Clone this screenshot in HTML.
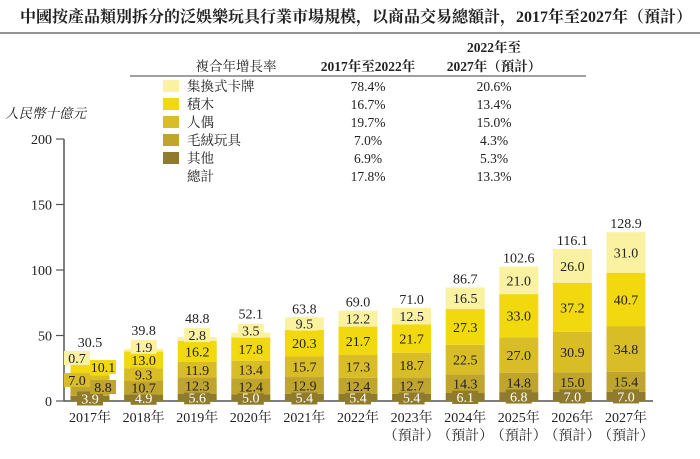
<!DOCTYPE html>
<html><head><meta charset="utf-8"><style>
body{margin:0;background:#fff;}
svg text{font-family:"Liberation Serif","Noto Serif CJK SC",serif;fill:#222;}
</style></head><body>
<svg width="700" height="454" viewBox="0 0 700 454" xmlns="http://www.w3.org/2000/svg">
<text x="356" y="22" text-anchor="middle" font-size="16" font-weight="bold">中國按產品類別拆分的泛娛樂玩具行業市場規模，以商品交易總額計，2017年至2027年（預計）</text>
<line x1="0" y1="33" x2="700" y2="33" stroke="#555" stroke-width="1.2"/>
<g id="table">
<text x="236" y="71" text-anchor="middle" font-size="13.5">複合年增長率</text>
<text x="368" y="71" text-anchor="middle" font-size="13.5" font-weight="bold">2017年至2022年</text>
<text x="494" y="52" text-anchor="middle" font-size="13.5" font-weight="bold">2022年至</text>
<text x="494" y="71" text-anchor="middle" font-size="13.5" font-weight="bold">2027年（預計）</text>
<line x1="130" y1="76" x2="586" y2="76" stroke="#666" stroke-width="1.2"/>
</g>
<g id="plot"></g>
<text x="5" y="118" font-size="13.5" font-style="italic">人民幣十億元</text>
</svg>
<script>
const years = ["2017年","2018年","2019年","2020年","2021年","2022年","2023年","2024年","2025年","2026年","2027年"];
const forecast = [false,false,false,false,false,false,true,true,true,true,true];
const seriesNames = ["其他","毛絨玩具","人偶","積木","集換式卡牌"];
const other = [3.9,4.9,5.6,5.0,5.4,5.4,5.4,6.1,6.8,7.0,7.0];
const plush = [8.8,10.7,12.3,12.4,12.9,12.4,12.7,14.3,14.8,15.0,15.4];
const dolls = [7.0,9.3,11.9,13.4,15.7,17.3,18.7,22.5,27.0,30.9,34.8];
const blocks = [10.1,13.0,16.2,17.8,20.3,21.7,21.7,27.3,33.0,37.2,40.7];
const cards = [0.7,1.9,2.8,3.5,9.5,12.2,12.5,16.5,21.0,26.0,31.0];
const totals = [30.5,39.8,48.8,52.1,63.8,69.0,71.0,86.7,102.6,116.1,128.9];
const cagr1 = ["6.9%","7.0%","19.7%","16.7%","78.4%"];
const cagr2 = ["5.3%","4.3%","15.0%","13.4%","20.6%"];
const totalCagr = ["17.8%","13.3%"];
const yTicks = [0,50,100,150,200];

const NS="http://www.w3.org/2000/svg";
const plot=document.getElementById('plot');
const table=document.getElementById('table');
const colors=["#8f7b2b","#bfa52e","#d9bd26","#f2d90f","#faf2a0"];
const textColors=["#fff","#222","#222","#222","#222"];
const series=[other,plush,dolls,blocks,cards];
const x0=64, yBase=401, yScale=262/200, band=53.6, firstCenter=90, barW=39;
const y=v=>yBase-v*yScale;
const xc=i=>firstCenter+i*band;
function mk(tag,attrs,parent){const e=document.createElementNS(NS,tag);for(const k in attrs)e.setAttribute(k,attrs[k]);(parent||plot).appendChild(e);return e;}

for(let r=0;r<5;r++){
  const s=4-r, ry=86+r*18;
  const sw=mk('rect',{x:163,y:ry-6,width:16,height:12,fill:colors[s]},table);
  
  
  const t=mk('text',{x:187,y:ry+5,'font-size':13.5},table);t.textContent=seriesNames[s];
  
  
  const a=mk('text',{x:368,y:ry+5,'font-size':13.5,'text-anchor':'middle'},table);a.textContent=cagr1[s];
  
  
  const b=mk('text',{x:494,y:ry+5,'font-size':13.5,'text-anchor':'middle'},table);b.textContent=cagr2[s];
  
  
}
{const ry=86+5*18;
 const t=mk('text',{x:187,y:ry+5,'font-size':13.5},table);t.textContent="總計";
 
 
 const a=mk('text',{x:368,y:ry+5,'font-size':13.5,'text-anchor':'middle'},table);a.textContent=totalCagr[0];
 
 
 const b=mk('text',{x:494,y:ry+5,'font-size':13.5,'text-anchor':'middle'},table);b.textContent=totalCagr[1];
 
 }

const ya=mk('line',{x1:x0,y1:y(200),x2:x0,y2:yBase,stroke:'#555','stroke-width':1.5});


const xa=mk('line',{x1:x0,y1:yBase,x2:653,y2:yBase,stroke:'#555','stroke-width':1.5});


yTicks.forEach(v=>{
  const tk=mk('line',{x1:x0-8,y1:y(v),x2:x0,y2:y(v),stroke:'#555','stroke-width':1.2});
  
  
  const t=mk('text',{x:x0-12,y:y(v)+5,'font-size':14,'text-anchor':'end'});t.textContent=v;
  
  
});

years.forEach((yr,i)=>{
  let cum=0;const cx=xc(i);
  const labels=[];
  series.forEach((arr,s)=>{
    const v=arr[i];
    const r=mk('rect',{x:cx-barW/2,y:y(cum+v),width:barW,height:v*yScale,fill:colors[s]});
    
    
    labels.push({s,v,mid:cum+v/2});
    cum+=v;
  });
  const top=y(cum);
  const smallTop = cards[i] < 5;
  labels.forEach(L=>{
    let lx=cx, ly=y(L.mid);
    if(L.s===4 && smallTop){ly=top-2;}
    if(i===0){
      if(L.s===1){lx=cx+13;ly=387;}
      if(L.s===2){lx=cx-13;ly=380;}
      if(L.s===3){lx=cx+13;ly=367;}
      if(L.s===4){lx=cx-13;ly=358;}
    }
    const g=mk('g',{});
    
    
    mk('rect',{x:lx-13,y:ly-7,width:26,height:14,fill:colors[L.s]},g);
    const t=mk('text',{x:lx,y:ly+5,'font-size':14,'text-anchor':'middle'},g);
    t.textContent=L.v.toFixed(1);
    t.style.fill=textColors[L.s];
  });
  const ty = smallTop ? top-14 : top-4;
  const tt=mk('text',{x:cx,y:ty,'font-size':14,'text-anchor':'middle'});tt.textContent=totals[i].toFixed(1);
  
  
  const xl=mk('text',{x:cx,y:422,'font-size':14,'text-anchor':'middle'});xl.textContent=yr;
  
  
  if(forecast[i]){const f=mk('text',{x:cx,y:440,'font-size':14,'text-anchor':'middle'});f.textContent="（預計）";
    
    }
});
</script>
</body></html>
